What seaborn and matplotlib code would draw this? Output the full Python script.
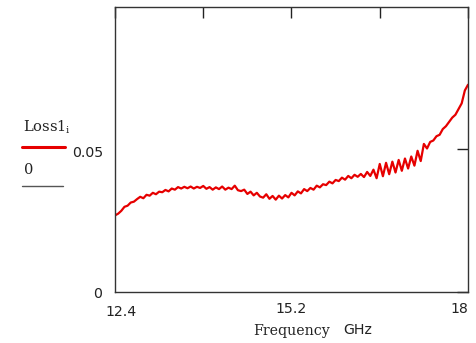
import numpy as np
import pandas as pd
import matplotlib
matplotlib.use("Agg")
import matplotlib.pyplot as plt
import matplotlib.transforms as mtransforms
from matplotlib.lines import Line2D
import seaborn as sns

freq_start = 12.4
freq_step = 0.05
loss_values = [
    0.0268, 0.0274, 0.0284, 0.0298, 0.0302, 0.0313, 0.0316, 0.0325, 0.0333, 0.0328,
    0.0340, 0.0337, 0.0347, 0.0342, 0.0351, 0.0349, 0.0357, 0.0352, 0.0362, 0.0358,
    0.0367, 0.0362, 0.0368, 0.0363, 0.0369, 0.0362, 0.0368, 0.0364, 0.0371, 0.0361,
    0.0367, 0.0358, 0.0366, 0.0360, 0.0369, 0.0358, 0.0365, 0.0360, 0.0372, 0.0356,
    0.0353, 0.0358, 0.0343, 0.0351, 0.0338, 0.0347, 0.0334, 0.0330, 0.0342, 0.0326,
    0.0336, 0.0323, 0.0337, 0.0327, 0.0339, 0.0331, 0.0347, 0.0338, 0.0352, 0.0345,
    0.0360, 0.0353, 0.0364, 0.0358, 0.0372, 0.0366, 0.0377, 0.0374, 0.0386, 0.0380,
    0.0392, 0.0388, 0.0400, 0.0393, 0.0406, 0.0398, 0.0410, 0.0403, 0.0413, 0.0402,
    0.0420, 0.0406, 0.0428, 0.0398, 0.0448, 0.0405, 0.0452, 0.0412, 0.0456, 0.0418,
    0.0462, 0.0424, 0.0467, 0.0432, 0.0474, 0.0442, 0.0494, 0.0458, 0.0518, 0.0502,
    0.0525, 0.0530, 0.0545, 0.0550, 0.0570, 0.0580, 0.0595, 0.0610, 0.0620, 0.0640,
    0.0660, 0.0705, 0.0725,
]
freq_values = [round(freq_start + i * freq_step, 2) for i in range(len(loss_values))]

x_ticks = [12.4, 13.8, 15.2, 16.6, 18.0]
x_tick_labels = ["12.4", "", "15.2", "", "18"]
y_ticks = [0.0, 0.05]
y_tick_labels = ["0", "0.05"]

df = pd.DataFrame({"freq": freq_values, "loss": loss_values})

sns.set_style("white")
plt.rcParams["font.family"] = ["DejaVu Sans"]
plt.rcParams["mathtext.fontset"] = "custom"
plt.rcParams["mathtext.rm"] = "DejaVu Serif"
plt.rcParams["mathtext.it"] = "DejaVu Serif"

fig = plt.figure(figsize=(4.77, 3.43), dpi=100)
ax = fig.add_axes([115 / 477, 1 - 292 / 343, (468 - 115) / 477, (292 - 7) / 343])

sns.lineplot(data=df, x="freq", y="loss", ax=ax, color="#e60000", linewidth=1.6)

ax.set_xlim(12.4, 18.0)
ax.set_ylim(0, 0.0997)
ax.set_xticks(x_ticks)
ax.set_xticklabels(x_tick_labels, fontsize=10.2, color="#222222")
ax.set_yticks(y_ticks)
ax.set_yticklabels(y_tick_labels, fontsize=10.2, color="#222222")
ax.tick_params(axis="both", direction="in", length=8, width=1, color="#222222",
               top=True, right=True)
ax.tick_params(axis="x", pad=7)
ax.tick_params(axis="y", pad=9)
for s in ax.spines.values():
    s.set_color("#333333")
    s.set_linewidth(1.0)

xl = ax.get_xticklabels()
xl[0].set_transform(xl[0].get_transform() + mtransforms.ScaledTranslation(6 / 100, -3 / 100, fig.dpi_scale_trans))
xl[4].set_horizontalalignment("right")
yl = ax.get_yticklabels()
yl[1].set_transform(yl[1].get_transform() + mtransforms.ScaledTranslation(1 / 100, -2 / 100, fig.dpi_scale_trans))

ax.set_xlabel("")
ax.set_ylabel("")

fig.text(253 / 477, 1 - 331 / 343, "Frequency", family="DejaVu Serif", fontsize=10.2, va="center", ha="left", color="#222222")
fig.text(343 / 477, 1 - 330 / 343, "GHz", family="DejaVu Sans", fontsize=10.2, va="center", ha="left", color="#222222")

fig.text(23 / 477, 1 - 127 / 343, "Loss1$_{\\mathrm{i}}$", family="DejaVu Serif", fontsize=10.5, va="center", ha="left", color="#222222")
fig.add_artist(Line2D([22 / 477, 65 / 477], [1 - 147 / 343, 1 - 147 / 343], color="#e60000", linewidth=2.2, transform=fig.transFigure))
fig.text(24 / 477, 1 - 170 / 343, "0", family="DejaVu Serif", fontsize=10.5, va="center", ha="left", color="#222222")
fig.add_artist(Line2D([22 / 477, 63 / 477], [1 - 186 / 343, 1 - 186 / 343], color="#555555", linewidth=1.0, transform=fig.transFigure))

fig.savefig("out.png", dpi=100)
